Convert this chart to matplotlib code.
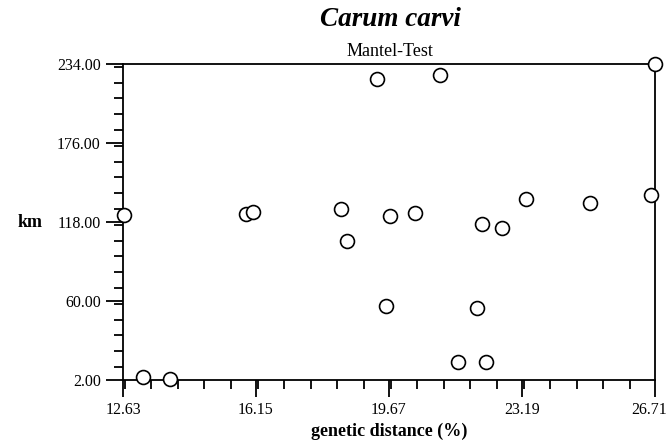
import matplotlib
matplotlib.use("Agg")
import matplotlib.pyplot as plt
import matplotlib.transforms as mtransforms
from matplotlib.ticker import MultipleLocator, FixedLocator

# genetic distance (%) vs geographic distance (km)
gen_dist = [12.66, 13.17, 13.87, 15.88, 16.08, 18.41, 18.55, 19.34, 19.58,
            19.70, 20.36, 21.03, 21.50, 22.00, 22.13, 22.24, 22.65, 23.30,
            24.99, 26.60, 26.71]
km = [122.9, 4.0, 2.7, 123.6, 125.1, 127.3, 103.8, 223.0, 56.2,
      122.6, 124.9, 226.0, 15.0, 55.2, 116.3, 15.0, 113.6, 135.2,
      131.6, 137.7, 234.0]

x_ticks = [12.63, 16.15, 19.67, 23.19, 26.71]
y_ticks = [2.0, 60.0, 118.0, 176.0, 234.0]

plt.rcParams['font.family'] = ['Liberation Serif', 'DejaVu Serif']

fig = plt.figure(figsize=(6.7, 4.43), dpi=100)
ax = fig.add_axes([0.1836, 0.1422, 0.7940, 0.7133])

ax.plot(gen_dist, km, linestyle='none', marker='o', markersize=10,
        markerfacecolor='white', markeredgecolor='black', markeredgewidth=1.2,
        clip_on=False, zorder=5)

ax.set_xlim(x_ticks[0], x_ticks[-1])
ax.set_ylim(y_ticks[0], y_ticks[-1])
ax.xaxis.set_major_locator(FixedLocator(x_ticks))
ax.yaxis.set_major_locator(FixedLocator(y_ticks))
ax.xaxis.set_minor_locator(MultipleLocator((x_ticks[1] - x_ticks[0]) / 5))
ax.yaxis.set_minor_locator(MultipleLocator((y_ticks[1] - y_ticks[0]) / 5))
ax.set_xticklabels(['%.2f' % v for v in x_ticks])
ax.set_yticklabels(['%.2f' % v for v in y_ticks])

for s in ax.spines.values():
    s.set_linewidth(1.3)
ax.tick_params(which='major', direction='out', length=12, width=1.3, labelsize=11.5, pad=4)
ax.tick_params(which='minor', direction='out', length=6.5, width=1.3)
ax.tick_params(top=False, right=False, which='both')

# last x label sits against the right edge, nudge it left a little
last = ax.get_xticklabels()[-1]
last.set_transform(last.get_transform() +
                   mtransforms.ScaledTranslation(-4 / 72, 0, fig.dpi_scale_trans))

ax.set_xlabel('genetic distance (%)', fontsize=13, fontweight='bold', va='center')
ax.xaxis.set_label_coords(0.5, -0.161)
ax.set_ylabel('km', fontsize=13, fontweight='bold', rotation=0, va='center', ha='center')
ax.yaxis.set_label_coords(-0.175, (118 - 2) / 232)

fig.text(0.582, 0.957, 'Carum carvi', ha='center', va='center', fontsize=19.5,
         fontweight='bold', fontstyle='italic')
fig.text(0.582, 1 - 52 / 443, 'Mantel-Test', ha='center', va='center', fontsize=13)

fig.savefig('out.png', dpi=100)
